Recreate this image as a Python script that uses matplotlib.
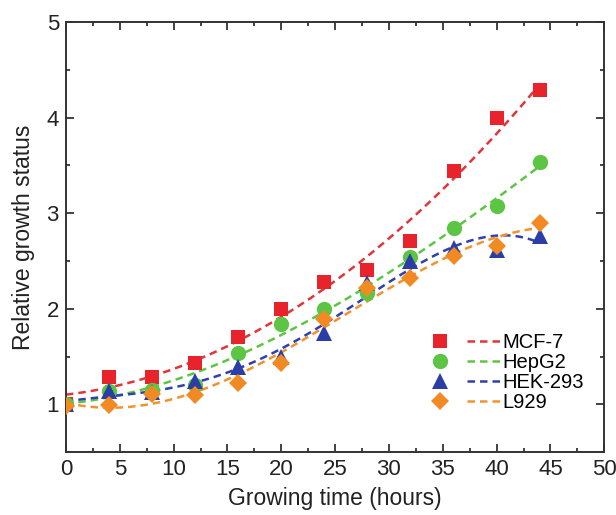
import matplotlib
matplotlib.use("Agg")
import matplotlib.pyplot as plt
import numpy as np
from matplotlib.legend_handler import HandlerTuple
from matplotlib.lines import Line2D
from matplotlib.ticker import MultipleLocator

plt.rcParams["font.family"] = ["Liberation Sans", "DejaVu Sans"]

hours = [0, 4, 8, 12, 16, 20, 24, 28, 32, 36, 40, 44]
mcf7 = [1.00, 1.29, 1.29, 1.43, 1.71, 2.00, 2.28, 2.41, 2.71, 3.44, 4.00, 4.29]
hepg2 = [1.00, 1.14, 1.15, 1.20, 1.54, 1.84, 2.00, 2.17, 2.54, 2.85, 3.08, 3.54]
hek293 = [1.00, 1.14, 1.13, 1.24, 1.39, 1.50, 1.75, 2.27, 2.50, 2.64, 2.62, 2.76]
l929 = [0.98, 0.99, 1.11, 1.10, 1.22, 1.43, 1.89, 2.22, 2.32, 2.55, 2.66, 2.90]

names = ["MCF-7", "HepG2", "HEK-293", "L929"]
series = [mcf7, hepg2, hek293, l929]
markers = ["s", "o", "^", "D"]
marker_sizes = [10, 11, 11, 9]
colors = ["#E8232B", "#5DC544", "#2B3EA6", "#F28A23"]
line_colors = ["#E0353A", "#5DC544", "#3040B0", "#F2922E"]
fit_degree = [2, 3, 4, 4]

fig = plt.figure(figsize=(6.16, 5.15), dpi=100)
ax = fig.add_axes([0.107, 0.122, 0.874, 0.835])

x = np.array(hours, dtype=float)
xs = np.linspace(0, 44, 200)
handles = []
for name, ys, mk, ms, c, lc, deg in zip(names, series, markers, marker_sizes,
                                         colors, line_colors, fit_degree):
    ax.plot(x, ys, linestyle="none", marker=mk, color=c, markersize=ms,
            markeredgewidth=0, zorder=3)
    coef = np.polyfit(x, ys, deg)
    ax.plot(xs, np.polyval(coef, xs), linestyle=(0, (3, 2)), color=lc,
            linewidth=1.8, zorder=2)
    h_marker = Line2D([], [], linestyle="none", marker=mk, color=c,
                      markersize=ms, markeredgewidth=0)
    h_line = Line2D([], [], linestyle=(0, (3, 2)), color=lc, linewidth=1.8)
    handles.append((h_marker, h_line))

ax.set_xlim(0, 50)
ax.set_ylim(0.5, 5)
ax.xaxis.set_major_locator(MultipleLocator(5))
ax.xaxis.set_minor_locator(MultipleLocator(2.5))
ax.yaxis.set_major_locator(MultipleLocator(1))
ax.yaxis.set_minor_locator(MultipleLocator(0.5))
ax.tick_params(which="both", direction="in", top=True, right=True,
               labelsize=16, width=1.2, colors="#222222")
ax.tick_params(which="major", length=6, pad=5)
ax.tick_params(which="minor", length=3)
for s in ax.spines.values():
    s.set_linewidth(1.4)
    s.set_color("#333333")

ax.set_xlabel("Growing time (hours)", fontsize=16.5, labelpad=5, color="#222222")
ax.set_ylabel("Relative growth status", fontsize=16.5, labelpad=8, color="#222222")

ax.legend(handles, names, handler_map={tuple: HandlerTuple(ndivide=None, pad=0.5)},
          loc="lower right", bbox_to_anchor=(0.985, 0.065), frameon=False,
          fontsize=14.5, handlelength=3.9, handletextpad=0.05, labelspacing=0.05,
          borderaxespad=0.2)

fig.savefig("out.png", dpi=100)
